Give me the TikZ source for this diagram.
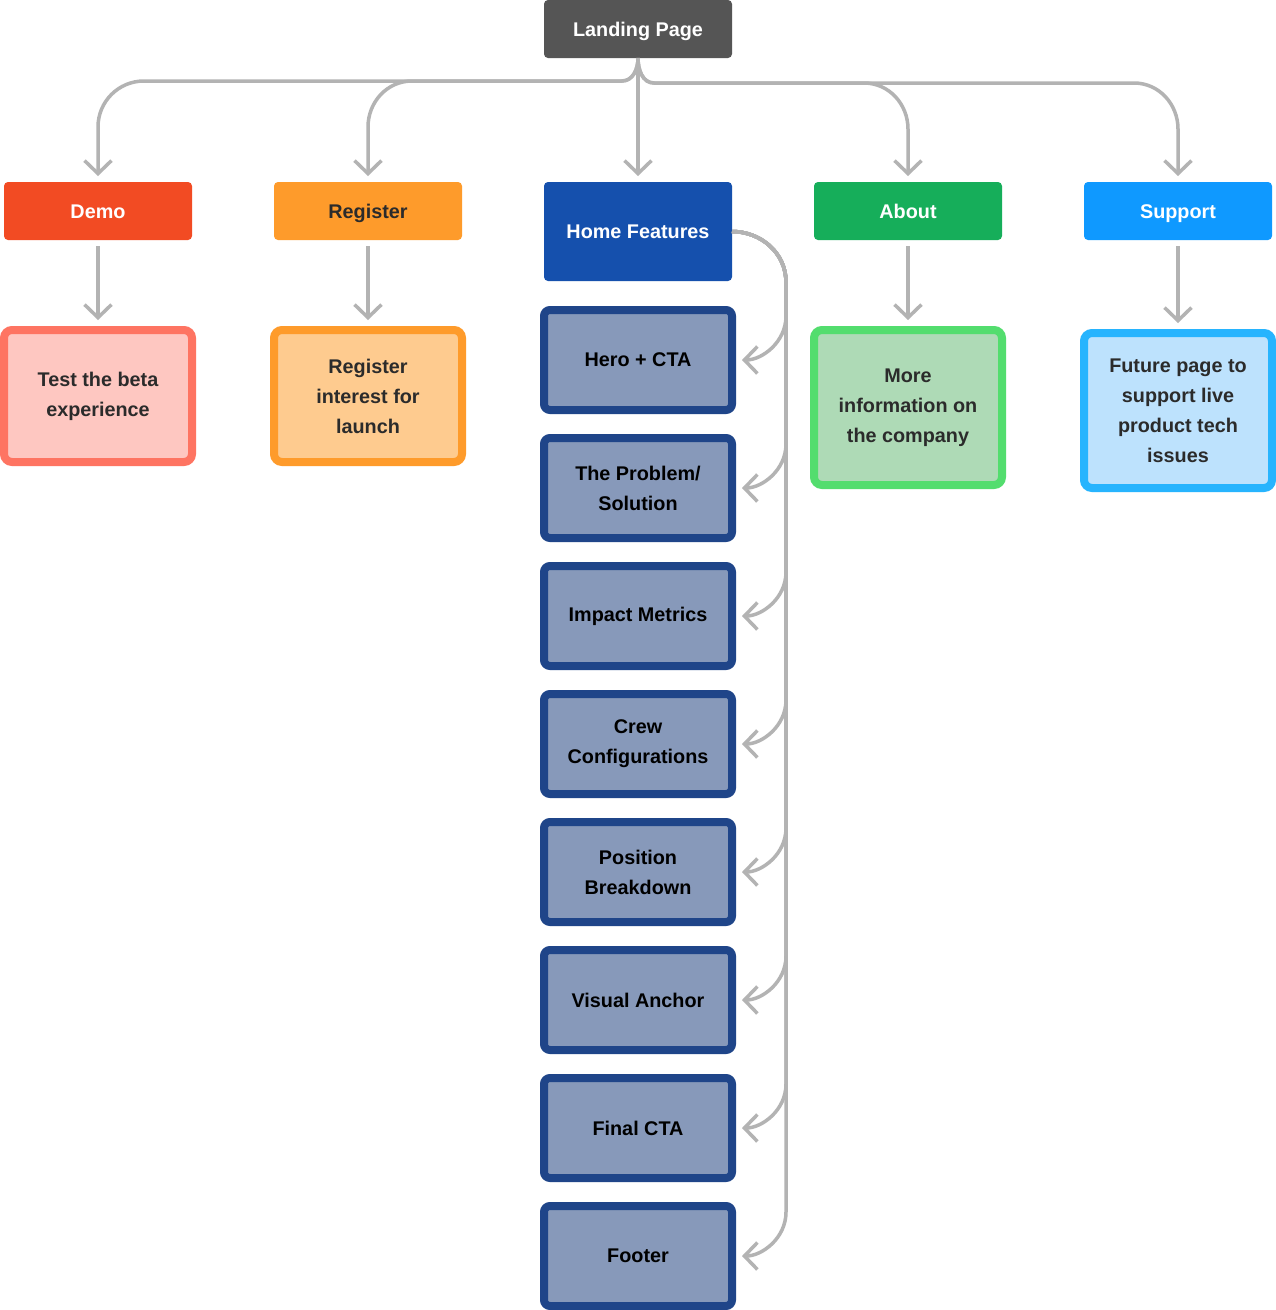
\documentclass[tikz,border=0pt]{standalone}
\usepackage{fontspec}
\setmainfont{Liberation Sans}
\usetikzlibrary{arrows.meta,calc}
\definecolor{landc}{HTML}{555555}
\definecolor{democ}{HTML}{F24B23}
\definecolor{regc}{HTML}{FE9B2B}
\definecolor{homec}{HTML}{1550AD}
\definecolor{aboutc}{HTML}{16AE5A}
\definecolor{suppc}{HTML}{0F99FF}
\definecolor{testfill}{HTML}{FEC7C1}
\definecolor{testdraw}{HTML}{FE7462}
\definecolor{regifill}{HTML}{FECB8F}
\definecolor{morefill}{HTML}{AEDAB6}
\definecolor{moredraw}{HTML}{53DD6E}
\definecolor{futfill}{HTML}{BDE2FD}
\definecolor{futdraw}{HTML}{27B4FE}
\definecolor{childfill}{HTML}{8799BA}
\definecolor{childdraw}{HTML}{1F4589}
\definecolor{linec}{HTML}{B3B3B3}
\definecolor{darktext}{HTML}{2B2B2B}
\tikzset{
  lbl/.style={font=\fontsize{19.8pt}{30pt}\selectfont\bfseries, align=center},
  topbox/.style={lbl, fill=#1, draw=none, rounded corners=4pt, minimum width=188pt, minimum height=58pt, inner sep=0pt, outer sep=0pt, text height=14pt, text depth=0pt},
  detbox/.style={lbl, line width=8pt, rounded corners=8pt, minimum width=188pt, inner sep=0pt, text=darktext},
  childbox/.style={lbl, line width=8pt, rounded corners=6pt, minimum width=188pt, minimum height=100pt, inner sep=0pt, fill=childfill, draw=childdraw, text=black},
  conn/.style={draw=linec, line width=3.5pt, -{Straight Barb[length=13pt,width=27pt]}, shorten >=6pt},
}
\begin{document}
\begin{tikzpicture}[x=1pt,y=1pt]
\useasboundingbox (0,0) rectangle (1276,-1310);
\fill[white] (0,0) rectangle (1276,-1310);
% top row
\node[topbox=landc, text=white] (land) at (638,-29) {Landing Page};
\node[topbox=democ, text=white] (demo) at (98,-211) {Demo};
\node[topbox=regc, text=darktext] (reg) at (368,-211) {Register};
\node[topbox=homec, text=white, minimum height=99pt] (home) at (638,-231.5) {Home Features};
\node[topbox=aboutc, text=white] (about) at (908,-211) {About};
\node[topbox=suppc, text=white] (supp) at (1178,-211) {Support};
% detail boxes
\node[detbox, fill=testfill, draw=testdraw, minimum height=132pt] (test) at (98,-396) {Test the beta\\experience};
\node[detbox, fill=regifill, draw=regc, minimum height=132pt] (regi) at (368,-396) {Register\\interest for\\launch};
\node[detbox, fill=morefill, draw=moredraw, minimum height=155pt] (more) at (908,-407.5) {More\\information on\\the company};
\node[detbox, fill=futfill, draw=futdraw, minimum height=155pt] (fut) at (1178,-410.5) {Future page to\\support live\\product tech\\issues};
% children
\node[childbox] (c1) at (638,-360) {Hero + CTA};
\node[childbox] (c2) at (638,-488) {The Problem/\\Solution};
\node[childbox] (c3) at (638,-616) {Impact Metrics};
\node[childbox] (c4) at (638,-744) {Crew\\Configurations};
\node[childbox] (c5) at (638,-872) {Position\\Breakdown};
\node[childbox] (c6) at (638,-1000) {Visual Anchor};
\node[childbox] (c7) at (638,-1128) {Final CTA};
\node[childbox] (c8) at (638,-1256) {Footer};
% bus coordinates
\coordinate (busL) at (0,-81);
\coordinate (busR) at (0,-83);
\coordinate (sp) at (786,-282);
% landing connectors
\draw[conn] (land.south) to[out=-90,in=0] ($(land.south|-busL)+(-16,0)$) -- ($(demo.north|-busL)+(46,0)$) to[out=180,in=90] ($(demo.north|-busL)+(0,-46)$) -- (demo.north);
\draw[conn] (land.south) to[out=-90,in=0] ($(land.south|-busL)+(-16,0)$) -- ($(reg.north|-busL)+(44,0)$) to[out=180,in=90] ($(reg.north|-busL)+(0,-46)$) -- (reg.north);
\draw[conn] (land.south) -- (home.north);
\draw[conn] (land.south) to[out=-90,in=180] ($(land.south|-busR)+(16,0)$) -- ($(about.north|-busR)+(-44,0)$) to[out=0,in=90] ($(about.north|-busR)+(0,-46)$) -- (about.north);
\draw[conn] (land.south) to[out=-90,in=180] ($(land.south|-busR)+(16,0)$) -- ($(supp.north|-busR)+(-44,0)$) to[out=0,in=90] ($(supp.north|-busR)+(0,-46)$) -- (supp.north);
% down connectors
\draw[conn, shorten <=6pt] (demo.south) -- (test.north);
\draw[conn, shorten <=6pt] (reg.south) -- (regi.north);
\draw[conn, shorten <=6pt] (about.south) -- (more.north);
\draw[conn, shorten <=6pt] (supp.south) -- (fut.north);
% spine
\foreach \c in {c1,c2,c3,c4,c5,c6,c7,c8}{
  \draw[conn] (home.east) to[out=0,in=90] (sp) -- ($(sp|-\c.east)+(0,44)$) to[out=-90,in=0] (\c.east);
}
\end{tikzpicture}
\end{document}
